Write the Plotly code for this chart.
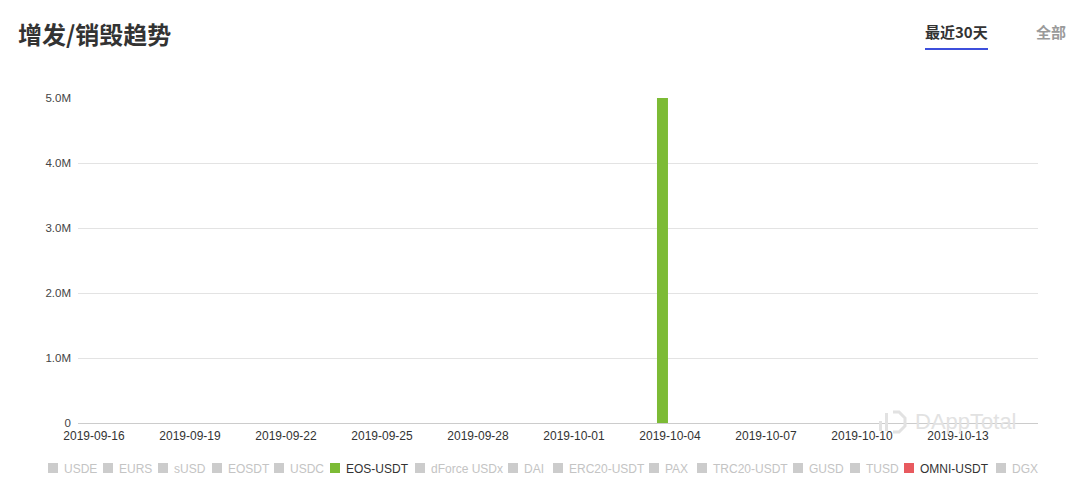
import plotly.graph_objects as go

# ---------------- data ----------------
dates = [
    "2019-09-16", "2019-09-17", "2019-09-18", "2019-09-19", "2019-09-20",
    "2019-09-21", "2019-09-22", "2019-09-23", "2019-09-24", "2019-09-25",
    "2019-09-26", "2019-09-27", "2019-09-28", "2019-09-29", "2019-09-30",
    "2019-10-01", "2019-10-02", "2019-10-03", "2019-10-04", "2019-10-05",
    "2019-10-06", "2019-10-07", "2019-10-08", "2019-10-09", "2019-10-10",
    "2019-10-11", "2019-10-12", "2019-10-13", "2019-10-14", "2019-10-15",
]
eos_usdt = [0, 0, 0, 0, 0, 0, 0, 0, 0, 0,
            0, 0, 0, 0, 0, 0, 0, 0, 5000000, 0,
            0, 0, 0, 0, 0, 0, 0, 0, 0, 0]
omni_usdt = [0, 0, 0, 0, 0, 0, 0, 0, 0, 0,
             0, 0, 0, 0, 0, 0, 0, 0, 0, 0,
             0, 0, 0, 0, 0, 0, 0, 0, 0, 0]

x_tick_labels = ["2019-09-16", "2019-09-19", "2019-09-22", "2019-09-25", "2019-09-28",
                 "2019-10-01", "2019-10-04", "2019-10-07", "2019-10-10", "2019-10-13"]
y_tick_values = [0, 1000000, 2000000, 3000000, 4000000, 5000000]
y_tick_labels = ["0", "1.0M", "2.0M", "3.0M", "4.0M", "5.0M"]

series_names = ["USDE", "EURS", "sUSD", "EOSDT", "USDC", "EOS-USDT", "dForce USDx",
                "DAI", "ERC20-USDT", "PAX", "TRC20-USDT", "GUSD", "TUSD",
                "OMNI-USDT", "DGX"]
active_series = {"EOS-USDT": "#7cbb35", "OMNI-USDT": "#e85a5f"}

# ---------------- layout helpers ----------------
W, H = 1080, 490
PAGE = 8                          # default page margin around the plot div
L, R, T, B = 78, 1038, 98, 423    # plot area in screen pixels


def px(x):
    return (x - L) / (R - L)


def py(y):
    return (B - y) / (B - T)


CJK = "Noto Sans CJK SC"
LAT = "Liberation Sans"

fig = go.Figure()
fig.add_trace(go.Bar(x=dates, y=eos_usdt, name="EOS-USDT",
                     marker=dict(color=active_series["EOS-USDT"], line=dict(width=0)),
                     showlegend=False))
fig.add_trace(go.Bar(x=dates, y=omni_usdt, name="OMNI-USDT",
                     marker=dict(color=active_series["OMNI-USDT"], line=dict(width=0)),
                     showlegend=False))

shapes = []
annotations = []

# title
annotations.append(dict(text="<b>增发/销毁趋势</b>", x=px(16), y=py(34), xref="paper", yref="paper",
                        xanchor="left", yanchor="middle", showarrow=False,
                        font=dict(family=CJK, size=24, color="#333333")))
# tabs
annotations.append(dict(text="<b>最近30天</b>", x=px(956), y=py(31), xref="paper", yref="paper",
                        xanchor="center", yanchor="middle", showarrow=False,
                        font=dict(family=CJK, size=15, color="#333333")))
annotations.append(dict(text="<b>全部</b>", x=px(1051), y=py(31), xref="paper", yref="paper",
                        xanchor="center", yanchor="middle", showarrow=False,
                        font=dict(family=CJK, size=15, color="#9a9a9a")))
shapes.append(dict(type="line", xref="paper", yref="paper", x0=px(925), x1=px(988),
                   y0=py(49), y1=py(49), line=dict(color="#3d4fdc", width=2)))

# manual legend
legend_px = [48, 103, 158, 212, 274, 330, 415, 508, 553, 649, 697, 793, 850, 904, 996]
for name, lx in zip(series_names, legend_px):
    col = active_series.get(name, "#cccccc")
    tcol = "#333333" if name in active_series else "#c4c4c4"
    shapes.append(dict(type="rect", xref="paper", yref="paper",
                       x0=px(lx), x1=px(lx + 10), y0=py(463), y1=py(473),
                       fillcolor=col, line=dict(width=0)))
    annotations.append(dict(text=name, x=px(lx + 14), y=py(468.5), xref="paper", yref="paper",
                            xanchor="left", yanchor="middle", showarrow=False,
                            font=dict(family=LAT, size=12, color=tcol)))

# watermark
wm = "#e2e2e2"
shapes.append(dict(type="rect", xref="paper", yref="paper", x0=px(879), x1=px(882),
                   y0=py(431), y1=py(421), fillcolor=wm, line=dict(width=0)))
shapes.append(dict(type="rect", xref="paper", yref="paper", x0=px(885), x1=px(888),
                   y0=py(431), y1=py(413), fillcolor=wm, line=dict(width=0)))
pts = [(893, 412), (899, 412), (905, 418), (905, 426), (899, 432), (893, 432)]
path = "M " + " L ".join(f"{px(a):.5f},{py(b):.5f}" for a, b in pts)
shapes.append(dict(type="path", xref="paper", yref="paper", path=path,
                   line=dict(color=wm, width=3)))
annotations.append(dict(text="DAppTotal", x=px(966), y=py(421), xref="paper", yref="paper",
                        xanchor="center", yanchor="middle", showarrow=False,
                        font=dict(family=LAT, size=22, color=wm)))

fig.update_layout(
    width=W, height=H,
    margin=dict(l=L - PAGE, r=W - (R - PAGE), t=T - PAGE, b=H - (B - PAGE), pad=0),
    paper_bgcolor="white", plot_bgcolor="white",
    barmode="group", bargap=0.06, bargroupgap=0.27,
    showlegend=False,
    shapes=shapes, annotations=annotations,
    font=dict(family=LAT, size=12, color="#444444"),
    xaxis=dict(type="category", categoryorder="array", categoryarray=dates,
               tickvals=x_tick_labels, ticktext=x_tick_labels,
               showgrid=False, showline=True, linecolor="#cccccc", linewidth=1,
               ticks="", ticklabelstandoff=2,
               tickfont=dict(family=LAT, size=12, color="#333333"),
               range=[-0.5, len(dates) - 0.5], fixedrange=True),
    yaxis=dict(range=[0, 5000000], tickvals=y_tick_values, ticktext=y_tick_labels,
               showgrid=True, gridcolor="#e3e3e3", gridwidth=1, zeroline=False,
               showline=False, ticks="", ticklabelstandoff=6,
               tickfont=dict(family=LAT, size=11.5, color="#444444"), fixedrange=True),
)

fig.write_html("out.html")
